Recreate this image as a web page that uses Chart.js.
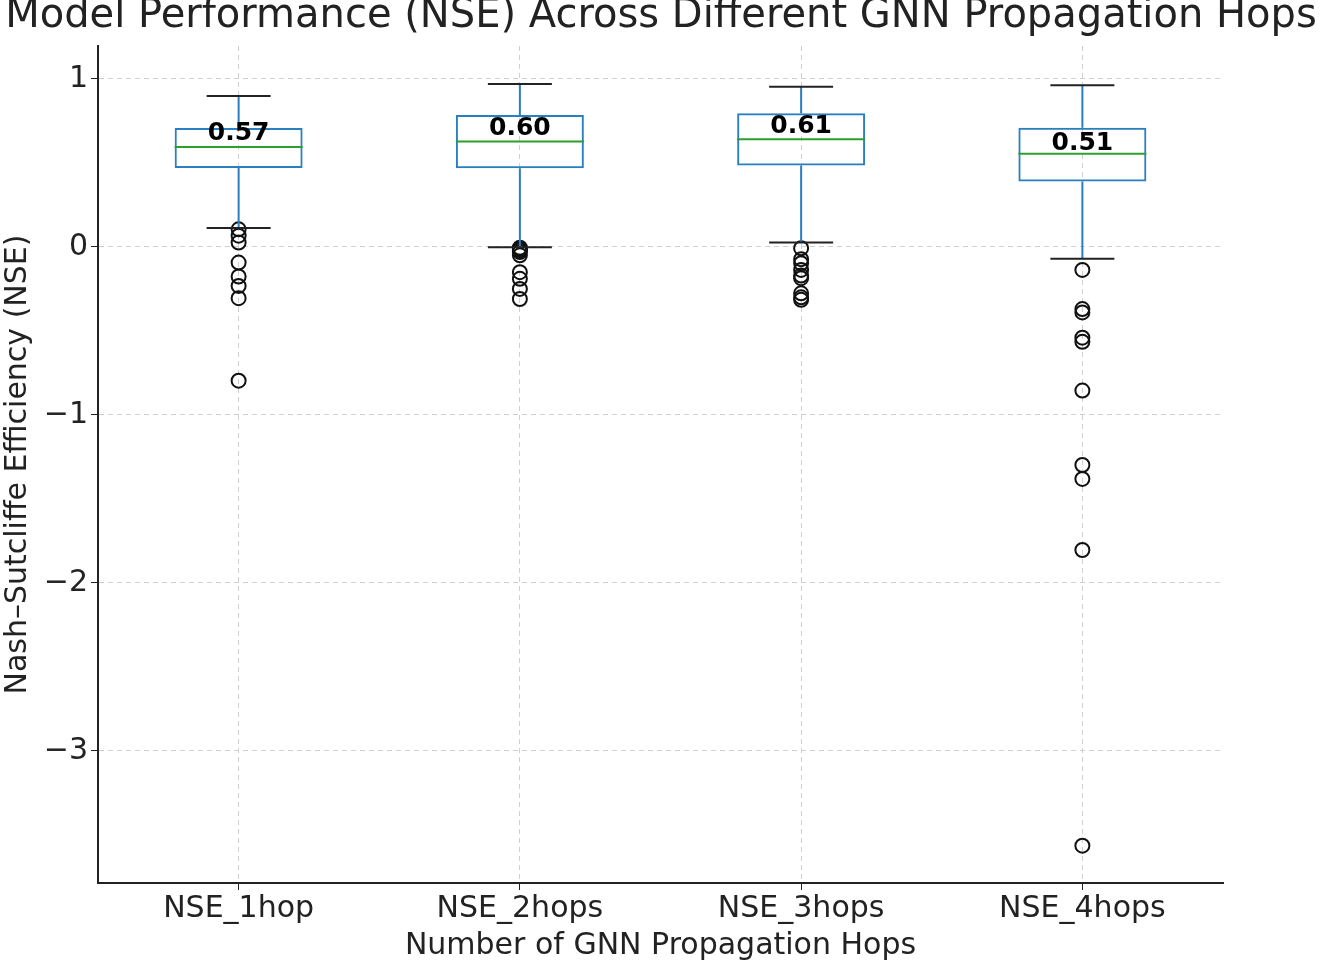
<!DOCTYPE html>
<html>
<head>
<meta charset="utf-8">
<script src="https://cdn.jsdelivr.net/npm/chart.js@4.4.1/dist/chart.umd.min.js"></script>
<style>
  html, body { margin: 0; padding: 0; background: #fff; }
  canvas { display: block; }
</style>
</head>
<body>
<canvas id="c" width="1323" height="964"></canvas>
<script>
const categories = ['NSE_1hop', 'NSE_2hops', 'NSE_3hops', 'NSE_4hops'];
const q1 = [0.470, 0.468, 0.484, 0.389];
const q3 = [0.708, 0.786, 0.796, 0.710];
const medians = [0.595, 0.627, 0.641, 0.555];
const whiskerLow = [0.113, -0.002, 0.026, -0.071];
const whiskerHigh = [0.899, 0.970, 0.954, 0.962];
const means = [0.57, 0.60, 0.61, 0.51];
const outliers = [
  [0.105, 0.067, 0.026, -0.093, -0.176, -0.232, -0.305, -0.796],
  [-0.005, -0.012, -0.02, -0.03, -0.05, -0.15, -0.19, -0.25, -0.31],
  [-0.008, -0.073, -0.097, -0.137, -0.17, -0.186, -0.276, -0.30, -0.315],
  [-0.137, -0.37, -0.39, -0.54, -0.565, -0.855, -1.298, -1.381, -1.804, -3.564]
];
const yTicks = [1, 0, -1, -2, -3];

const FONT = "'DejaVu Sans', sans-serif";
const BLUE = '#2a7fc0';
const GREEN = '#2ca02c';

const outlierPoints = [];
outliers.forEach((arr, i) => arr.forEach(v => outlierPoints.push({ x: categories[i], y: v })));

// whiskers, caps, medians, mean labels and the title
const boxExtras = {
  id: 'boxExtras',
  afterDatasetsDraw(chart) {
    const ctx = chart.ctx;
    const xs = chart.scales.x, ys = chart.scales.y;
    const boxMeta = chart.getDatasetMeta(0);
    ctx.save();
    categories.forEach((c, i) => {
      const x = xs.getPixelForValue(i);
      const bar = boxMeta.data[i];
      const half = bar.width / 2;
      const cap = half / 2;
      ctx.lineWidth = 2;
      ctx.strokeStyle = BLUE;
      ctx.beginPath();
      ctx.moveTo(x, ys.getPixelForValue(q3[i]));
      ctx.lineTo(x, ys.getPixelForValue(whiskerHigh[i]));
      ctx.moveTo(x, ys.getPixelForValue(q1[i]));
      ctx.lineTo(x, ys.getPixelForValue(whiskerLow[i]));
      ctx.stroke();
      ctx.strokeStyle = '#222';
      ctx.beginPath();
      [whiskerHigh[i], whiskerLow[i]].forEach(v => {
        const y = ys.getPixelForValue(v);
        ctx.moveTo(x - cap, y);
        ctx.lineTo(x + cap, y);
      });
      ctx.stroke();
      ctx.strokeStyle = GREEN;
      ctx.beginPath();
      const ym = ys.getPixelForValue(medians[i]);
      ctx.moveTo(x - half, ym);
      ctx.lineTo(x + half, ym);
      ctx.stroke();
      ctx.fillStyle = '#000';
      ctx.font = 'bold 25px ' + FONT;
      ctx.textAlign = 'center';
      ctx.textBaseline = 'middle';
      ctx.fillText(means[i].toFixed(2), x, ys.getPixelForValue(means[i] + 0.105));
    });
    ctx.fillStyle = '#222';
    ctx.font = '40px ' + FONT;
    ctx.textAlign = 'center';
    ctx.textBaseline = 'middle';
    ctx.fillText('Model Performance (NSE) Across Different GNN Propagation Hops', 661, 17);
    ctx.restore();
  }
};

new Chart(document.getElementById('c'), {
  type: 'bar',
  data: {
    labels: categories,
    datasets: [{
      data: categories.map((c, i) => [q1[i], q3[i]]),
      backgroundColor: 'rgba(0,0,0,0)',
      borderColor: BLUE,
      borderWidth: 2,
      borderSkipped: false,
      barPercentage: 0.455,
      categoryPercentage: 1,
      order: 2
    }, {
      type: 'line',
      data: outlierPoints,
      showLine: false,
      pointStyle: 'circle',
      pointRadius: 7,
      pointBorderWidth: 2,
      pointBorderColor: '#111',
      pointBackgroundColor: 'rgba(0,0,0,0)',
      order: 1
    }]
  },
  options: {
    responsive: false,
    devicePixelRatio: 1,
    animation: false,
    layout: { padding: { top: 46, right: 100, left: 0, bottom: 0 } },
    plugins: { legend: { display: false }, tooltip: { enabled: false } },
    scales: {
      x: {
        type: 'category',
        offset: true,
        grid: { offset: false, color: '#cfcfcf', tickColor: '#222', tickLength: 7, tickBorderDash: [] },
        border: { color: '#222', width: 2, dash: [5, 4] },
        ticks: { color: '#222', font: { family: FONT, size: 30 }, padding: 1, maxRotation: 0 },
        title: { display: true, text: 'Number of GNN Propagation Hops', color: '#222', font: { family: FONT, size: 30 }, padding: 0 },
        afterFit: s => { s.height = 81; }
      },
      y: {
        min: -3.786,
        max: 1.196,
        afterBuildTicks: s => { s.ticks = yTicks.map(v => ({ value: v })); },
        grid: { color: '#cfcfcf', tickColor: '#222', tickLength: 7, tickBorderDash: [] },
        border: { color: '#222', width: 2, dash: [5, 4] },
        ticks: {
          color: '#222',
          font: { family: FONT, size: 30 },
          padding: 3,
          callback: v => (v < 0 ? '\u2212' + Math.abs(v) : String(v))
        },
        title: { display: true, text: 'Nash\u2013Sutcliffe Efficiency (NSE)', color: '#222', font: { family: FONT, size: 30 }, padding: 0 },
        afterFit: s => { s.width = 98; }
      }
    }
  },
  plugins: [boxExtras]
});
</script>
</body>
</html>
